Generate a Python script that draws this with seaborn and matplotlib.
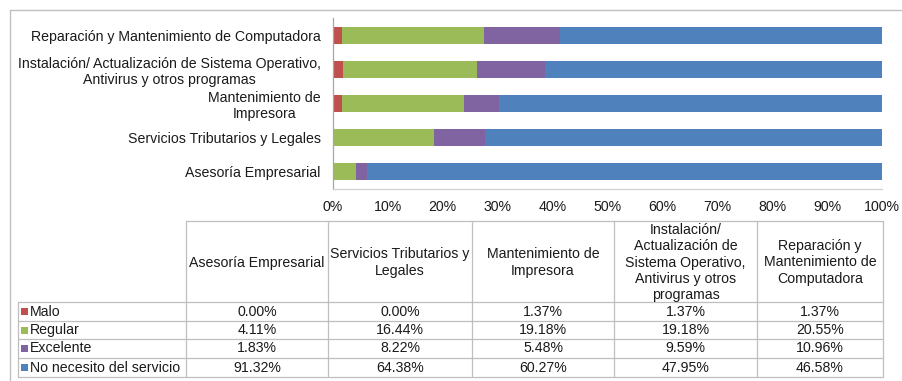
import numpy as np
import pandas as pd
import matplotlib
matplotlib.use("Agg")
import matplotlib.pyplot as plt
import seaborn as sns
from matplotlib.patches import Rectangle

# ---------------- data ----------------
categories = ["Asesoría Empresarial", "Servicios Tributarios y Legales",
              "Mantenimiento de Impresora",
              "Instalación/ Actualización de Sistema Operativo, Antivirus y otros programas",
              "Reparación y Mantenimiento de Computadora"]
axis_labels = ["Asesoría Empresarial", "Servicios Tributarios y Legales",
               "Mantenimiento de\nImpresora",
               "Instalación/ Actualización de Sistema Operativo,\nAntivirus y otros programas",
               "Reparación y Mantenimiento de Computadora"]
table_headers = ["Asesoría Empresarial", "Servicios Tributarios y\nLegales",
                 "Mantenimiento de\nImpresora",
                 "Instalación/\nActualización de\nSistema Operativo,\nAntivirus y otros\nprogramas",
                 "Reparación y\nMantenimiento de\nComputadora"]
series_names = ["Malo", "Regular", "Excelente", "No necesito del servicio"]
malo = [0.00, 0.00, 1.37, 1.37, 1.37]
regular = [4.11, 16.44, 19.18, 19.18, 20.55]
excelente = [1.83, 8.22, 5.48, 9.59, 10.96]
no_necesito = [91.32, 64.38, 60.27, 47.95, 46.58]
tick_values = [0, 10, 20, 30, 40, 50, 60, 70, 80, 90, 100]
tick_labels = [f"{t}%" for t in tick_values]
colors = ["#C0504D", "#9BBB59", "#8064A2", "#4F81BD"]

series = [malo, regular, excelente, no_necesito]

# ---------------- style ----------------
sns.set_theme(style="white")
plt.rcParams["font.family"] = ["Liberation Sans", "DejaVu Sans"]
FS = 10.2
TXT = "#1a1a1a"
GRID = "#BFBFBF"

fig = plt.figure(figsize=(9.02, 3.81), dpi=100)
W, H = 902, 381

# ---------------- stacked 100% bars ----------------
ax = fig.add_axes([333 / W, 1 - 189 / H, 549 / W, 171 / H])
vals = np.array(series)                       # shape (4, 5)
totals = vals.sum(axis=0)
cum = np.cumsum(vals, axis=0) / totals * 100  # 100% stacked
plot_order = list(reversed(categories))
for i in reversed(range(len(series_names))):
    df = pd.DataFrame({"category": categories, "value": cum[i]})
    sns.barplot(data=df, x="value", y="category", order=plot_order, orient="h",
                color=colors[i], saturation=1, width=0.5, errorbar=None,
                linewidth=0, ax=ax)
ax.set_xlim(0, 100)
ax.set_ylim(4.5, -0.5)
ax.set_xticks(tick_values)
ax.set_xticklabels(tick_labels, fontsize=FS, color=TXT)
label_map = dict(zip(categories, axis_labels))
ax.set_yticks(range(len(plot_order)))
ax.set_yticklabels([label_map[c] for c in plot_order], fontsize=FS, color=TXT)
for lab in ax.get_yticklabels():
    lab.set_multialignment("center")
    lab.set_linespacing(1.18)
ax.tick_params(axis="x", length=0, pad=8)
ax.tick_params(axis="y", length=0, pad=9)
ax.set_xlabel("")
ax.set_ylabel("")
for s in ["top", "right"]:
    ax.spines[s].set_visible(False)
ax.spines["left"].set_color("#A6A6A6")
ax.spines["bottom"].set_color("#D0D0D0")
ax.spines["left"].set_linewidth(0.9)
ax.spines["bottom"].set_linewidth(0.9)

# ---------------- data table (overlay in pixel coordinates) ----------------
ov = fig.add_axes([0, 0, 1, 1], zorder=-1)
ov.set_xlim(0, W)
ov.set_ylim(H, 0)
ov.axis("off")

# outer chart border
ov.plot([10, 10], [10, H], color=GRID, lw=1)
ov.plot([10, W], [10, 10], color=GRID, lw=1)

cols = [186, 328, 472, 614, 757, 883]
head_top, head_bot = 221, 302
rows = [302, 321, 339, 358, 377]
left = 18
for x in cols:
    ov.plot([x, x], [head_top, rows[-1]], color=GRID, lw=0.9)
ov.plot([left, left], [rows[0], rows[-1]], color=GRID, lw=0.9)
ov.plot([cols[0], cols[-1]], [head_top, head_top], color=GRID, lw=0.9)
for y in rows:
    ov.plot([left, cols[-1]], [y, y], color=GRID, lw=0.9)

for j, h in enumerate(table_headers):
    cx = (cols[j] + cols[j + 1]) / 2
    ov.text(cx, (head_top + head_bot) / 2 + 1, h, ha="center", va="center",
            fontsize=FS, color=TXT, multialignment="center", linespacing=1.2)

for i, name in enumerate(series_names):
    cy = (rows[i] + rows[i + 1]) / 2
    ov.add_patch(Rectangle((21, cy - 3.5), 7, 7, color=colors[i], lw=0))
    ov.text(29.5, cy, name, ha="left", va="center", fontsize=FS, color=TXT)
    for j in range(len(categories)):
        cx = (cols[j] + cols[j + 1]) / 2
        ov.text(cx, cy, f"{series[i][j]:.2f}%", ha="center", va="center",
                fontsize=FS, color=TXT)

fig.savefig("out.png", dpi=100)
